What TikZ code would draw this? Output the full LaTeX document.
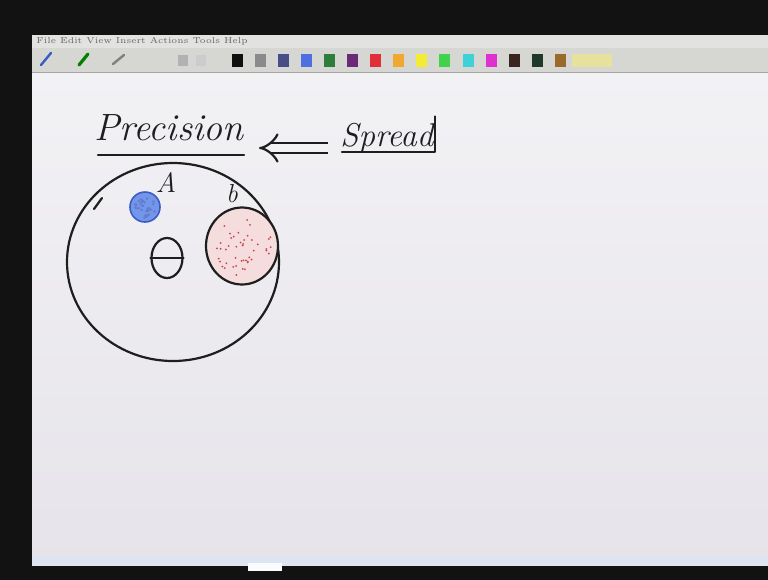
\documentclass[tikz,border=0pt]{standalone}
\usepackage{tikz}
\usetikzlibrary{calc,positioning,arrows.meta,shapes.geometric}
\definecolor{frameblack}{HTML}{121212}
\definecolor{boardwhite}{HTML}{F2F1F4}
\definecolor{boardgrey}{HTML}{E6E4EA}
\definecolor{menugrey}{HTML}{E2E2E0}
\definecolor{toolgrey}{HTML}{D6D6D2}
\definecolor{inkblack}{HTML}{1E1E1E}
\definecolor{penblue}{HTML}{7496EA}
\definecolor{pendot}{HTML}{3A5CC4}
\definecolor{pinkfill}{HTML}{F5DCDD}
\definecolor{reddot}{HTML}{C9434C}
\definecolor{statusblue}{HTML}{DCE5F2}

\tikzset{
    ink/.style={draw=inkblack, line width=1.1pt, line cap=round, line join=round},
    hand/.style={inkblack, inner sep=0pt, font=\itshape},
    swatch/.style={minimum width=5.5pt, minimum height=6.5pt, inner sep=0pt}
}

\begin{document}
\begin{tikzpicture}[x=0.5pt, y=-0.5pt]
                \useasboundingbox (0,0) rectangle (768,580);
                \fill[frameblack] (0,0) rectangle (768,580);
                \shade[top color=boardwhite, bottom color=boardgrey] (32,72) rectangle (768,565);
                \fill[statusblue] (32,557) rectangle (768,565);
                \fill[white!90!statusblue] (248,563) rectangle (282,571);
                \fill[menugrey] (32,35) rectangle (768,48);
                \fill[toolgrey] (32,48) rectangle (768,72);
                \draw[gray!70, thin] (32,72) -- (768,72);
                \node[gray!80!black, anchor=west, inner sep=0pt, font=\fontsize{4.3}{5}\selectfont] (menutext) at (36,41.5) {File\ Edit\ View\ Insert\ Actions\ Tools\ Help};
                \draw[pendot, line width=1.2pt, line cap=round] (41,65) -- (51,53);
                \draw[green!50!black, line width=1.6pt, line cap=round] (79,65) -- (88,54);
                \draw[gray, line width=1.2pt, line cap=round] (113,64) -- (124,55);
                \fill[gray!60] (178,55) rectangle (188,66);
                \fill[gray!40] (196,55) rectangle (206,66);
                \foreach \c [count=\i from 0] in {101010,8A8A8A,4A4E86,4F6FE0,2E7D3A,6A2A78,E02F38,F0A830,F2EC34,3FD24A,3CD2D8,E030D0,3A2420,1F3A2A,9A6A2A}
                {
                    \definecolor{swatchfill}{HTML}{\c}
                    \node[swatch, fill=swatchfill] (swatch\i) at (237+23.1*\i,60.5) {};
                }
                \fill[yellow!30!toolgrey] (572,54) rectangle (612,67);
                \node[hand, anchor=base west, font=\itshape\fontsize{19}{22}\selectfont] (precision) at (94,140) {Precision};
                \draw[ink] ($(precision.south west)+(4,14)$) -- ($(precision.south east)+(0,14)$);
                \node[hand, anchor=base west, font=\itshape\fontsize{16.5}{20}\selectfont] (spread) at (340,146) {Spread};
                \draw[ink] ($(spread.base west)+(2,6)$) -- ($(spread.base east)+(1,6)$) -- ($(spread.north east)+(1,-6)$);
                \coordinate (arrowtail) at (328,148);
                \coordinate (arrowhead) at (259,148);
                \draw[ink, line cap=butt, double=boardwhite, double distance=4pt, -{Implies}] (arrowtail) -- (arrowhead);
                \node[ink, ellipse, minimum width=106pt, minimum height=99pt, inner sep=0pt] (bigring) at (173,262) {};
                \draw[ink] (94,209) -- (102,198);
                \node[draw=pendot, fill=penblue, circle, line width=0.8pt, minimum size=15pt, inner sep=0pt] (blobA) at (145,207) {};
                \pgfmathsetseed{11}
                \foreach \k in {1,...,30}
                {
                    \pgfmathsetmacro{\rr}{11*sqrt(rnd)}
                    \pgfmathsetmacro{\aa}{360*rnd}
                    \fill[pendot!80] ($(blobA)+(\aa:\rr)$) circle (0.7pt);
                }
                \node[hand, font=\itshape\fontsize{14}{16}\selectfont] (labelA) at (166,182) {A};
                \node[ink, fill=pinkfill, ellipse, minimum width=36pt, minimum height=38.5pt, inner sep=0pt] (blobB) at (242,246) {};
                \foreach \k in {1,...,45}
                {
                    \pgfmathsetmacro{\rr}{30*sqrt(rnd)}
                    \pgfmathsetmacro{\aa}{360*rnd}
                    \fill[reddot] ($(blobB)+(\aa:\rr)$) circle (0.5pt);
                }
                \node[hand, font=\itshape\fontsize{13}{15}\selectfont] (labelB) at (232,194) {b};
                \node[ink, ellipse, minimum width=15.5pt, minimum height=20pt, inner sep=0pt] (theta) at (167,258) {};
                \draw[ink] (theta.west) -- (theta.east);
            \end{tikzpicture}
\end{document}
